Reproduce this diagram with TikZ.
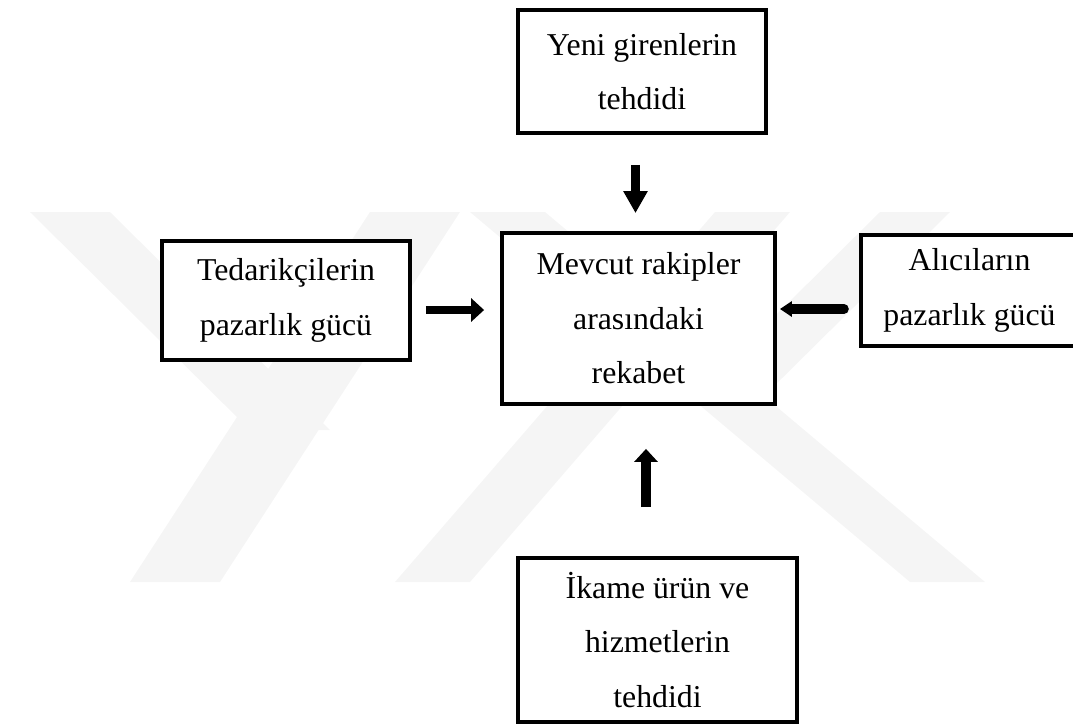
\documentclass[tikz,border=0pt]{standalone}
\usepackage{fontspec}
\setmainfont{Liberation Serif}
\usetikzlibrary{arrows.meta}
\tikzstyle{kutu} = [rectangle, draw=black, line width=2.2pt, fill=white, align=center, font=\fontsize{18.1}{31}\selectfont]
\tikzstyle{okuc} = [line width=0.17cm, -{Triangle[width=0.46cm,length=0.26cm]}]
\tikzstyle{filigran} = [fill=black!4, draw=none]

\begin{document}
\begin{tikzpicture}[x=0.02cm, y=-0.02cm]
    \useasboundingbox (0,0) rectangle (1073,725);

    % soluk arka plan deseni
    \fill [filigran] (30,212) -- (110,212) -- (330,430) -- (250,430) -- cycle;
    \fill [filigran] (370,212) -- (460,212) -- (220,582) -- (130,582) -- cycle;
    \fill [filigran] (715,212) -- (790,212) -- (470,582) -- (395,582) -- cycle;
    \fill [filigran] (470,212) -- (545,212) -- (985,582) -- (910,582) -- cycle;
    \fill [filigran] (880,212) -- (950,212) -- (760,400) -- (690,400) -- cycle;

    \node [kutu, minimum width=4.96cm, minimum height=2.46cm] (yeni) at (642,71.5) {Yeni girenlerin\\tehdidi};
    \node [kutu, minimum width=4.96cm, minimum height=2.38cm] (tedarik) at (286,300.5) {Tedarikçilerin\\pazarlık gücü};
    \node [kutu, minimum width=5.46cm, minimum height=3.42cm] (rekabet) at (638.5,318.5) {Mevcut rakipler\\arasındaki\\rekabet};
    \node [kutu, minimum width=4.34cm, minimum height=2.22cm] (alici) at (969.5,290.5) {Alıcıların\\pazarlık gücü};
    \node [kutu, minimum width=5.58cm, minimum height=3.28cm] (ikame) at (657.5,640) {İkame ürün ve\\hizmetlerin\\tehdidi};

    \draw [okuc, -{Triangle[width=0.46cm,length=0.44cm]}, shorten <=0.6cm, shorten >=0.36cm]
        ([xshift=-0.13cm]yeni.south) -- ([xshift=-0.13cm]yeni.south |- rekabet.north);
    \draw [okuc, shorten <=0.28cm, shorten >=0.32cm]
        ([yshift=-0.19cm]tedarik.east) -- ([yshift=-0.19cm]tedarik.east -| rekabet.west);
    \draw [okuc, line width=0.19cm, line cap=round, -{Triangle[width=0.3cm,length=0.24cm]}, shorten <=0.3cm, shorten >=0.06cm]
        ([yshift=-0.37cm]alici.west) -- ([yshift=-0.37cm]alici.west -| rekabet.east);
    \draw [okuc, line width=0.2cm, shorten <=0.98cm, shorten >=0.86cm]
        ([xshift=-0.23cm]ikame.north) -- ([xshift=-0.23cm]ikame.north |- rekabet.south);
\end{tikzpicture}
\end{document}
